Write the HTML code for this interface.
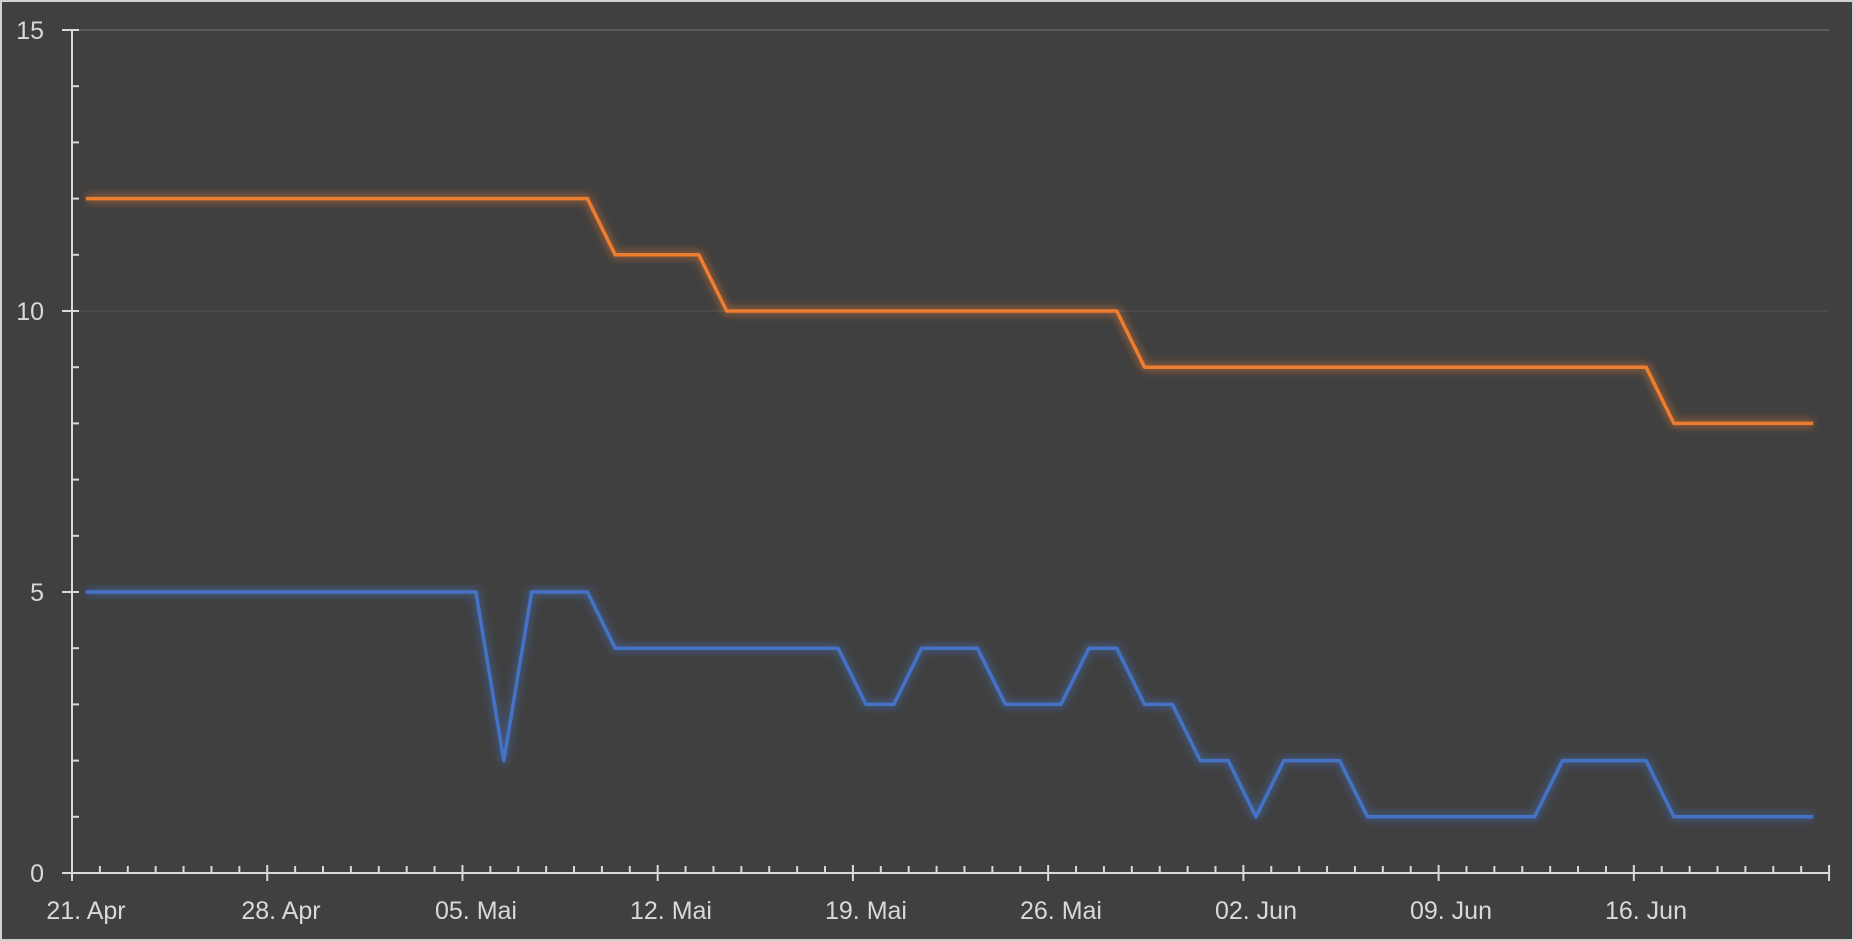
<!DOCTYPE html><html><head><style>body{margin:0;background:#404040}svg{display:block}text{font-family:"Liberation Sans",sans-serif;fill:#d9d9d9;font-size:25px}</style></head><body>
<svg width="1854" height="941" xmlns="http://www.w3.org/2000/svg">
<defs><filter id="g" x="-5%" y="-20%" width="110%" height="140%"><feGaussianBlur stdDeviation="4"/></filter></defs>
<rect x="1" y="1" width="1852" height="939" fill="#404040" stroke="#d0d0d0" stroke-width="2"/>
<line x1="72" y1="30" x2="1829" y2="30" stroke="#5a5a5a" stroke-width="2"/>
<line x1="72" y1="311" x2="1829" y2="311" stroke="#4e4e4e" stroke-width="1.5"/>
<g stroke="#d9d9d9" stroke-width="2">
<line x1="72" y1="30" x2="72" y2="880"/>
<line x1="62" y1="873" x2="1829" y2="873"/>
</g>
<g id="ticks" stroke="#d9d9d9" stroke-width="2"></g>
<g text-anchor="end"><text x="44" y="39">15</text><text x="44" y="320">10</text><text x="44" y="601">5</text><text x="44" y="882">0</text></g>
<g text-anchor="middle"><text x="86" y="919">21. Apr</text><text x="281" y="919">28. Apr</text><text x="476" y="919">05. Mai</text><text x="671" y="919">12. Mai</text><text x="866" y="919">19. Mai</text><text x="1061" y="919">26. Mai</text><text x="1256" y="919">02. Jun</text><text x="1451" y="919">09. Jun</text><text x="1646" y="919">16. Jun</text></g>
<g fill="none" stroke-linejoin="round">
<polyline points="85.9,198.6 587.4,198.6 615.2,254.8 698.8,254.8 726.7,311 1116.7,311 1144.6,367.2 1646.1,367.2 1673.9,423.4 1813.2,423.4" stroke="#ed7d31" stroke-width="8" opacity="0.45" filter="url(#g)"/>
<polyline points="85.9,198.6 587.4,198.6 615.2,254.8 698.8,254.8 726.7,311 1116.7,311 1144.6,367.2 1646.1,367.2 1673.9,423.4 1813.2,423.4" stroke="#ed7d31" stroke-width="3.5"/>
<polyline points="85.9,592 475.9,592 503.8,760.6 531.7,592 587.4,592 615.2,648.2 838.1,648.2 866,704.4 893.8,704.4 921.7,648.2 977.4,648.2 1005.3,704.4 1061,704.4 1088.9,648.2 1116.7,648.2 1144.6,704.4 1172.4,704.4 1200.3,760.6 1228.2,760.6 1256,816.8 1283.9,760.6 1339.6,760.6 1367.5,816.8 1534.6,816.8 1562.5,760.6 1646.1,760.6 1673.9,816.8 1813.2,816.8" stroke="#4472c4" stroke-width="8" opacity="0.45" filter="url(#g)"/>
<polyline points="85.9,592 475.9,592 503.8,760.6 531.7,592 587.4,592 615.2,648.2 838.1,648.2 866,704.4 893.8,704.4 921.7,648.2 977.4,648.2 1005.3,704.4 1061,704.4 1088.9,648.2 1116.7,648.2 1144.6,704.4 1172.4,704.4 1200.3,760.6 1228.2,760.6 1256,816.8 1283.9,760.6 1339.6,760.6 1367.5,816.8 1534.6,816.8 1562.5,760.6 1646.1,760.6 1673.9,816.8 1813.2,816.8" stroke="#4472c4" stroke-width="3.5"/>
</g>
</svg>
<script>
var g=document.getElementById('ticks'),s='';
for(var i=0;i<=63;i++){var x=72+27.89*i;s+=(i%7==0)?'<line x1="'+x+'" y1="865" x2="'+x+'" y2="881"/>':'<line x1="'+x+'" y1="866" x2="'+x+'" y2="873"/>';}
for(var v=0;v<=15;v++){var y=873-56.2*v;s+=(v%5==0)?'<line x1="62" y1="'+y+'" x2="79" y2="'+y+'"/>':'<line x1="72" y1="'+y+'" x2="79" y2="'+y+'"/>';}
g.innerHTML=s;
</script>
</body></html>
